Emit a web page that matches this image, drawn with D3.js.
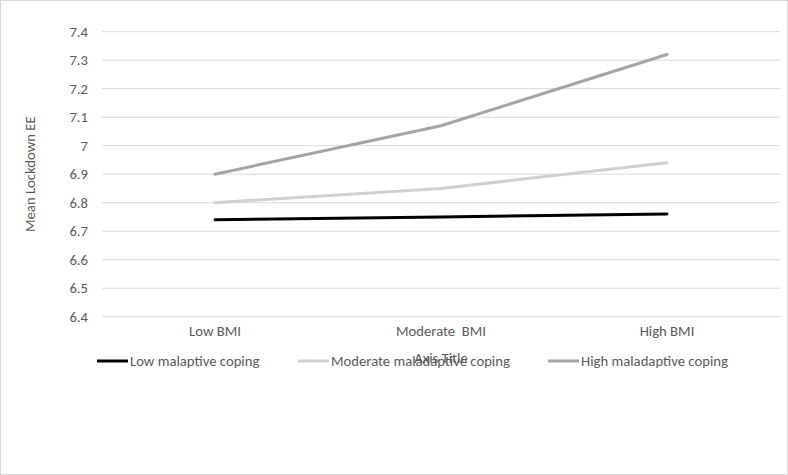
<!DOCTYPE html>
<html>
<head>
<meta charset="utf-8">
<script src="https://cdn.jsdelivr.net/npm/d3@7"></script>
<style>
  body { margin: 0; background: #fff; }
  text { font-family: Carlito, "Liberation Sans", Arial, sans-serif; }
</style>
</head>
<body>
<svg id="chart"></svg>
<script>
// chart data
const categories = ['Low BMI', 'Moderate  BMI', 'High BMI'];
const seriesNames = ['Low malaptive coping', 'Moderate maladaptive coping', 'High maladaptive coping'];
const lowCoping = [6.74, 6.75, 6.76];
const moderateCoping = [6.80, 6.85, 6.94];
const highCoping = [6.90, 7.07, 7.32];
const yTicks = [6.4, 6.5, 6.6, 6.7, 6.8, 6.9, 7, 7.1, 7.2, 7.3, 7.4];

const width = 788, height = 475;
const margin = { left: 102, right: 8, top: 31.7, bottom: 158.3 };
const colors = ['#000000', '#d0d0d0', '#a5a5a5'];
const series = [lowCoping, moderateCoping, highCoping];
const fontSize = '14.7px';

const svg = d3.select('#chart')
  .attr('width', width)
  .attr('height', height);

// outer border
svg.append('rect')
  .attr('x', 0.5).attr('y', 0.5)
  .attr('width', width - 1).attr('height', height - 1)
  .attr('fill', '#fff')
  .attr('stroke', '#d9d9d9');

const x = d3.scaleBand()
  .domain(categories)
  .range([margin.left, width - margin.right]);

const y = d3.scaleLinear()
  .domain([6.4, 7.4])
  .range([height - margin.bottom, margin.top]);

// gridlines
svg.append('g')
  .selectAll('line')
  .data(yTicks)
  .enter()
  .append('line')
  .attr('x1', margin.left)
  .attr('x2', width - margin.right)
  .attr('y1', d => y(d))
  .attr('y2', d => y(d))
  .attr('stroke', '#d9d9d9')
  .attr('stroke-width', 1);

// y axis labels
const yAxis = svg.append('g')
  .attr('transform', `translate(${margin.left - 14},0)`)
  .call(d3.axisLeft(y).tickValues(yTicks).tickSize(0).tickPadding(0).tickFormat(d3.format('')));
yAxis.select('.domain').remove();
yAxis.selectAll('text')
  .attr('fill', '#595959')
  .style('font-size', fontSize);

// x axis labels
const xAxis = svg.append('g')
  .attr('transform', `translate(0,${height - margin.bottom})`)
  .call(d3.axisBottom(x).tickSize(0).tickPadding(9));
xAxis.select('.domain').remove();
xAxis.selectAll('text')
  .attr('fill', '#595959')
  .style('font-size', fontSize)
  .style('white-space', 'pre');

// axis titles
svg.append('text')
  .attr('transform', `translate(35,${(y(6.4) + y(7.4)) / 2}) rotate(-90)`)
  .attr('text-anchor', 'middle')
  .attr('fill', '#595959')
  .style('font-size', fontSize)
  .text('Mean Lockdown EE');

svg.append('text')
  .attr('x', (margin.left + width - margin.right) / 2)
  .attr('y', 363)
  .attr('text-anchor', 'middle')
  .attr('fill', '#595959')
  .style('font-size', fontSize)
  .text('Axis Title');

// lines
const line = d3.line()
  .x((d, i) => x(categories[i]) + x.bandwidth() / 2)
  .y(d => y(d));

svg.append('g')
  .selectAll('path')
  .data(series)
  .enter()
  .append('path')
  .attr('d', d => line(d))
  .attr('fill', 'none')
  .attr('stroke', (d, i) => colors[i])
  .attr('stroke-width', 3)
  .attr('stroke-linecap', 'round');

// legend
const legendX = [97, 298, 548];
const legend = svg.append('g')
  .selectAll('g')
  .data(seriesNames)
  .enter()
  .append('g')
  .attr('transform', (d, i) => `translate(${legendX[i]},361)`);

legend.append('line')
  .attr('x1', 0).attr('x2', 31)
  .attr('y1', 0).attr('y2', 0)
  .attr('stroke', (d, i) => colors[i])
  .attr('stroke-width', 3);

legend.append('text')
  .attr('x', 33)
  .attr('y', 0)
  .attr('dy', '0.35em')
  .attr('fill', '#595959')
  .style('font-size', fontSize)
  .text(d => d);
</script>
</body>
</html>
